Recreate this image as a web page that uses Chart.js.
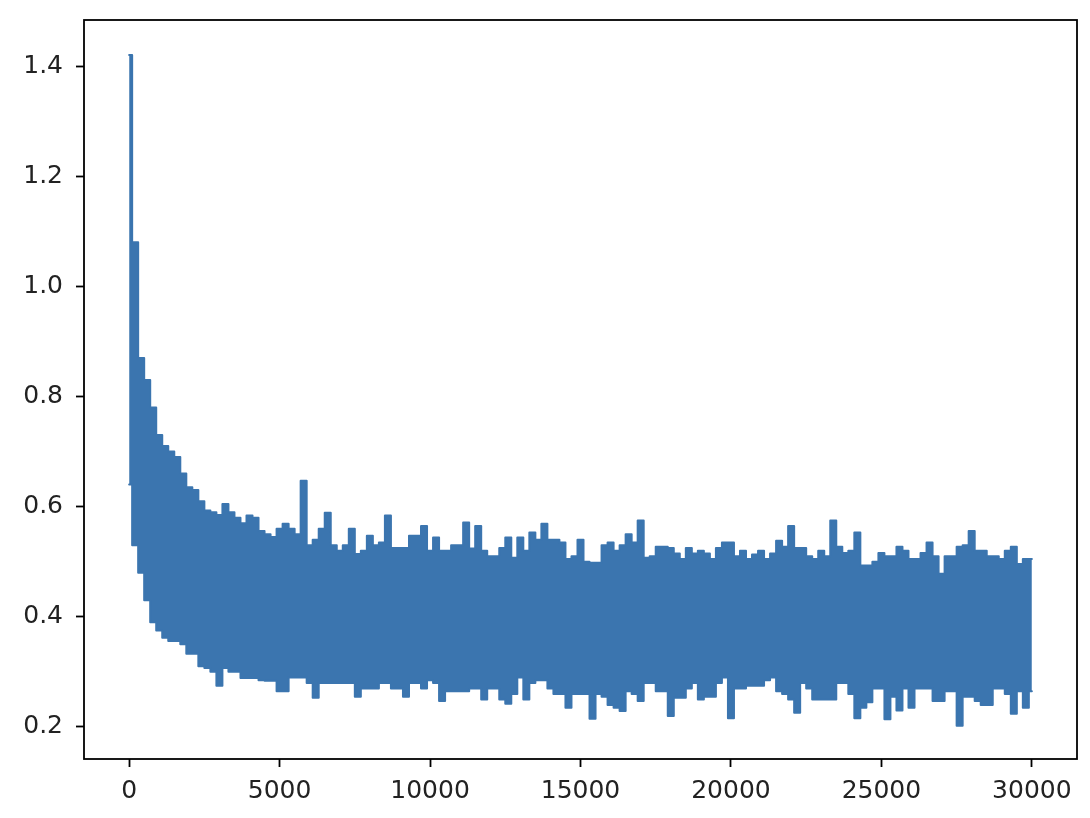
<!DOCTYPE html>
<html>
<head>
<meta charset="utf-8">
<title>loss</title>
<script src="https://cdn.jsdelivr.net/npm/chart.js@4.4.1/dist/chart.umd.min.js"></script>
<style>
  html, body { margin: 0; padding: 0; background: #fff; }
  #wrap { width: 1090px; height: 818px; }
</style>
</head>
<body>
<div id="wrap"><canvas id="loss_chart" width="1090" height="818"></canvas></div>
<script>
// training loss, read off the picture as the top and bottom edge of the noisy band
// one reading every 200 iterations (0 .. 30000)
const sampleEvery = 200;

const upperLoss = [
  1.42, 1.08, 0.87, 0.83, 0.78, 0.73, 0.71, 0.70, 0.69, 0.66,
  0.635, 0.63, 0.61, 0.593, 0.59, 0.585, 0.605, 0.59, 0.58, 0.57,
  0.584, 0.58, 0.556, 0.55, 0.545, 0.56, 0.569, 0.56, 0.55, 0.647,
  0.53, 0.54, 0.56, 0.589, 0.53, 0.52, 0.53, 0.56, 0.514, 0.52,
  0.547, 0.53, 0.535, 0.584, 0.525, 0.525, 0.525, 0.547, 0.547, 0.565,
  0.52, 0.544, 0.52, 0.52, 0.53, 0.53, 0.571, 0.524, 0.565, 0.52,
  0.51, 0.51, 0.525, 0.544, 0.507, 0.544, 0.52, 0.553, 0.54, 0.569,
  0.54, 0.54, 0.535, 0.505, 0.51, 0.54, 0.50, 0.498, 0.498, 0.53,
  0.535, 0.52, 0.53, 0.55, 0.535, 0.575, 0.507, 0.51, 0.527, 0.527,
  0.525, 0.515, 0.505, 0.525, 0.515, 0.52, 0.515, 0.505, 0.525, 0.535,
  0.535, 0.51, 0.52, 0.505, 0.513, 0.52, 0.505, 0.515, 0.538, 0.527,
  0.565, 0.525, 0.525, 0.51, 0.505, 0.52, 0.51, 0.575, 0.527, 0.516,
  0.52, 0.553, 0.493, 0.493, 0.50, 0.516, 0.51, 0.51, 0.527, 0.52,
  0.505, 0.505, 0.516, 0.535, 0.51, 0.478, 0.51, 0.51, 0.527, 0.53,
  0.556, 0.52, 0.52, 0.51, 0.51, 0.505, 0.52, 0.527, 0.496, 0.505,
  0.505,
];

const lowerLoss = [
  0.64, 0.53, 0.48, 0.43, 0.39, 0.375, 0.362, 0.356, 0.356, 0.35,
  0.333, 0.333, 0.31, 0.307, 0.30, 0.275, 0.307, 0.30, 0.30, 0.289,
  0.289, 0.289, 0.285, 0.284, 0.284, 0.265, 0.265, 0.29, 0.29, 0.29,
  0.28, 0.253, 0.28, 0.28, 0.28, 0.28, 0.28, 0.28, 0.255, 0.27,
  0.27, 0.27, 0.28, 0.28, 0.27, 0.27, 0.255, 0.28, 0.28, 0.27,
  0.285, 0.28, 0.247, 0.265, 0.265, 0.265, 0.265, 0.27, 0.27, 0.25,
  0.27, 0.27, 0.25, 0.242, 0.26, 0.29, 0.25, 0.28, 0.285, 0.285,
  0.27, 0.26, 0.26, 0.235, 0.26, 0.26, 0.26, 0.215, 0.26, 0.255,
  0.24, 0.235, 0.229, 0.265, 0.26, 0.247, 0.28, 0.28, 0.265, 0.265,
  0.22, 0.253, 0.253, 0.27, 0.28, 0.25, 0.255, 0.255, 0.28, 0.29,
  0.216, 0.27, 0.27, 0.275, 0.275, 0.275, 0.285, 0.29, 0.265, 0.26,
  0.25, 0.226, 0.28, 0.27, 0.25, 0.25, 0.25, 0.25, 0.28, 0.28,
  0.26, 0.216, 0.235, 0.245, 0.27, 0.27, 0.214, 0.255, 0.23, 0.27,
  0.235, 0.27, 0.27, 0.27, 0.247, 0.247, 0.265, 0.265, 0.202, 0.255,
  0.255, 0.247, 0.24, 0.24, 0.27, 0.27, 0.26, 0.224, 0.265, 0.235,
  0.265,
];

const xTicks = [0, 5000, 10000, 15000, 20000, 25000, 30000];
const yTicks = [0.2, 0.4, 0.6, 0.8, 1.0, 1.2, 1.4];

const lineColor = "#3b75af";
const tickFont = { family: "DejaVu Sans", size: 25 };

const steps = upperLoss.map((v, i) => i * sampleEvery);

// box round the plot, like the matplotlib spines
const frame = {
  id: "frame",
  afterDraw(chart) {
    const { ctx, chartArea: a } = chart;
    ctx.save();
    ctx.strokeStyle = "#000";
    ctx.lineWidth = 1.8;
    ctx.strokeRect(a.left, a.top, a.right - a.left, a.bottom - a.top);
    ctx.restore();
  },
};

const band = (values) => steps.map((s, i) => ({ x: s, y: values[i] }));

const data = {
  datasets: [
    {
      label: "low",
      data: band(lowerLoss),
      borderColor: lineColor,
      borderWidth: 2,
      borderJoinStyle: "round",
      borderCapStyle: "round",
      pointRadius: 0,
      stepped: "middle",
      fill: false,
    },
    {
      label: "high",
      data: band(upperLoss),
      borderColor: lineColor,
      backgroundColor: lineColor,
      borderWidth: 2,
      borderJoinStyle: "round",
      borderCapStyle: "round",
      pointRadius: 0,
      stepped: "middle",
      fill: "-1",
    },
  ],
};

const tickGrid = {
  drawOnChartArea: false,
  drawTicks: true,
  tickLength: 8,
  tickWidth: 1.8,
  tickColor: "#000",
};

const config = {
  type: "line",
  data: data,
  options: {
    responsive: false,
    animation: false,
    layout: { padding: { left: 0, top: 20, right: 13, bottom: 0 } },
    plugins: {
      legend: { display: false },
      tooltip: { enabled: false },
    },
    scales: {
      x: {
        type: "linear",
        min: -1500,
        max: 31500,
        afterBuildTicks: (s) => {
          s.ticks = xTicks.map((v) => ({ value: v }));
        },
        afterFit: (s) => {
          s.height = 59;
          s.paddingLeft = 0;
          s.paddingRight = 0;
        },
        grid: tickGrid,
        border: { display: false },
        ticks: {
          color: "#222",
          font: tickFont,
          padding: 9,
          maxRotation: 0,
          callback: (v) => String(v),
        },
      },
      y: {
        type: "linear",
        min: 0.1418,
        max: 1.4836,
        afterBuildTicks: (s) => {
          s.ticks = yTicks.map((v) => ({ value: v }));
        },
        afterFit: (s) => {
          s.width = 84;
          s.paddingTop = 0;
          s.paddingBottom = 0;
        },
        grid: tickGrid,
        border: { display: false },
        ticks: {
          color: "#222",
          font: tickFont,
          padding: 13,
          callback: (v) => v.toFixed(1),
        },
      },
    },
  },
  plugins: [frame],
};

const lossChart = new Chart(document.getElementById("loss_chart"), config);
</script>
</body>
</html>
